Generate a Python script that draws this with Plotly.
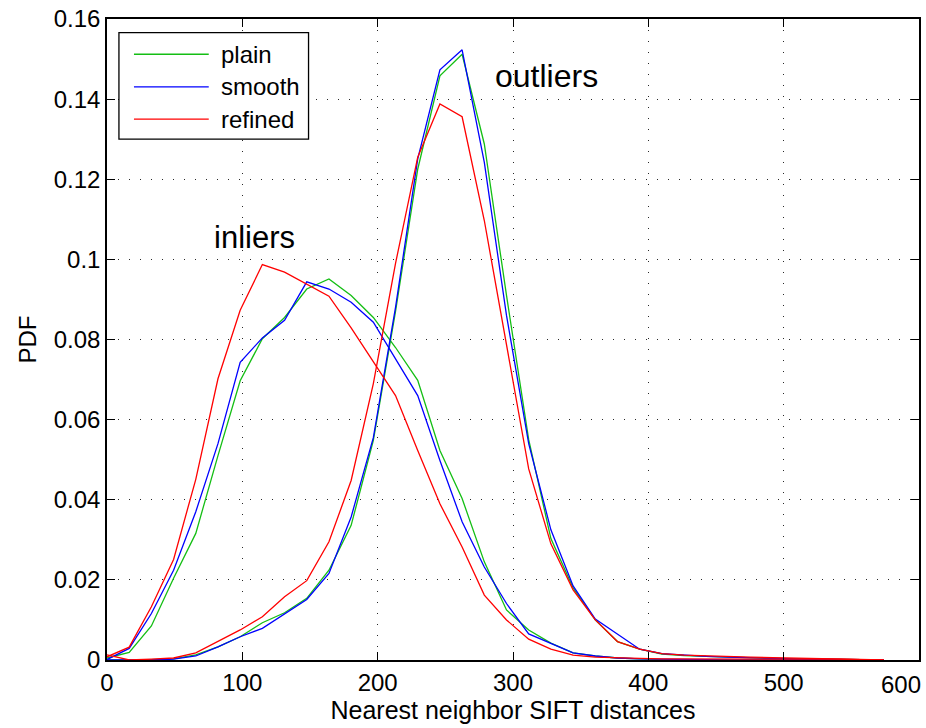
import plotly.graph_objects as go

# x positions of the histogram bins (distance units)
x_bins = [16.4 * i for i in range(36)]

# Inlier PDFs
plain_in = [0.0005, 0.0019, 0.0085, 0.0204, 0.0316, 0.0510, 0.0697, 0.0802, 0.0855, 0.0926,
            0.0951, 0.0910, 0.0855, 0.0780, 0.0698, 0.0523, 0.0403, 0.0245, 0.0125, 0.0075,
            0.0042, 0.0018, 0.0010, 0.0005, 0.0003, 0.0001, 0.0001, 0.0, 0.0, 0.0,
            0.0, 0.0, 0.0, 0.0, 0.0, 0.0]
smooth_in = [0.0001, 0.0029, 0.0116, 0.0224, 0.0370, 0.0540, 0.0743, 0.0804, 0.0848, 0.0944,
             0.0926, 0.0893, 0.0843, 0.0750, 0.0660, 0.0498, 0.0345, 0.0232, 0.0141, 0.0065,
             0.0042, 0.0018, 0.0010, 0.0005, 0.0003, 0.0002, 0.0001, 0.0001, 0.0, 0.0,
             0.0, 0.0, 0.0, 0.0, 0.0, 0.0]
refined_in = [0.0008, 0.0032, 0.0133, 0.0251, 0.0451, 0.0702, 0.0873, 0.0987, 0.0968, 0.0937,
              0.0908, 0.0829, 0.0744, 0.0660, 0.0523, 0.0390, 0.0282, 0.0162, 0.0100, 0.0052,
              0.0027, 0.0012, 0.0007, 0.0005, 0.0004, 0.0003, 0.0003, 0.0003, 0.0003, 0.0003,
              0.0003, 0.0003, 0.0003, 0.0002, 0.0001, 0.0]

# Outlier PDFs
plain_out = [0.0, 0.0, 0.0001, 0.0003, 0.0013, 0.0033, 0.0058, 0.0093, 0.0118, 0.0154,
             0.0224, 0.0336, 0.0548, 0.0870, 0.1225, 0.1458, 0.1512, 0.1288, 0.0910, 0.0550,
             0.0303, 0.0180, 0.0100, 0.0046, 0.0027, 0.0015, 0.0011, 0.0009, 0.0007, 0.0005,
             0.0004, 0.0003, 0.0002, 0.0001, 0.0001, 0.0]
smooth_out = [0.0, 0.0, 0.0, 0.0002, 0.0010, 0.0033, 0.0058, 0.0079, 0.0116, 0.0151,
              0.0216, 0.0357, 0.0555, 0.0880, 0.1251, 0.1473, 0.1523, 0.1242, 0.0860, 0.0540,
              0.0325, 0.0185, 0.0102, 0.0065, 0.0027, 0.0016, 0.0012, 0.0009, 0.0007, 0.0005,
              0.0004, 0.0003, 0.0002, 0.0002, 0.0001, 0.0]
refined_out = [0.0013, 0.0, 0.0002, 0.0005, 0.0018, 0.0046, 0.0075, 0.0108, 0.0158, 0.0198,
               0.0295, 0.0448, 0.0690, 0.0990, 0.1255, 0.1388, 0.1356, 0.1097, 0.0790, 0.0477,
               0.0290, 0.0175, 0.0100, 0.0046, 0.0027, 0.0016, 0.0012, 0.0010, 0.0008, 0.0007,
               0.0006, 0.0005, 0.0004, 0.0003, 0.0002, 0.0]

series_names = ["plain", "smooth", "refined"]
series_colors = ["rgb(20,190,20)", "rgb(0,0,255)", "rgb(255,0,0)"]
inliers = [plain_in, smooth_in, refined_in]
outliers = [plain_out, smooth_out, refined_out]

x_ticks = [0, 100, 200, 300, 400, 500, 600]
x_tick_text = ["0", "100", "200", "300", "400", "500", ""]  # last label placed separately
y_ticks = [0, 0.02, 0.04, 0.06, 0.08, 0.1, 0.12, 0.14, 0.16]
y_tick_text = ["0", "0.02", "0.04", "0.06", "0.08", "0.1", "0.12", "0.14", "0.16"]

FONT = "Liberation Sans, Arial, Helvetica, sans-serif"

fig = go.Figure()
for name, color, yin, yout in zip(series_names, series_colors, inliers, outliers):
    fig.add_trace(go.Scatter(x=x_bins, y=yin, mode="lines", name=name,
                             line=dict(color=color, width=1.3), showlegend=False))
    fig.add_trace(go.Scatter(x=x_bins, y=yout, mode="lines", name=name,
                             line=dict(color=color, width=1.3), showlegend=False))

axis_common = dict(
    showline=True, linecolor="black", linewidth=1.5, mirror="ticks",
    ticks="inside", ticklen=8, tickwidth=1, tickcolor="black",
    showgrid=True, gridcolor="rgb(40,40,40)", gridwidth=1, griddash="1px,10px",
    zeroline=False, tickfont=dict(family=FONT, size=24, color="black"),
)

fig.update_xaxes(range=[0, 600], tickvals=x_ticks, ticktext=x_tick_text, **axis_common,
                 title=dict(text="Nearest neighbor SIFT distances",
                            font=dict(family=FONT, size=25, color="black"), standoff=4))
fig.update_yaxes(range=[0, 0.16], tickvals=y_ticks, ticktext=y_tick_text, **axis_common,
                 title=dict(text="PDF", font=dict(family=FONT, size=24, color="black"),
                            standoff=10))

# the "600" tick label sits pushed inside the figure edge, as in the original
fig.add_annotation(x=x_ticks[-1], xref="x", y=0, yref="paper", text=str(x_ticks[-1]),
                   showarrow=False, xanchor="right", yanchor="middle", xshift=4, yshift=-24,
                   font=dict(family=FONT, size=24, color="black"))

# Legend (boxed key in the upper-left corner)
lx0, lx1, ly0, ly1 = 0.0147, 0.2482, 0.8126, 0.9787
fig.add_shape(type="rect", xref="paper", yref="paper", x0=lx0, x1=lx1, y0=ly0, y1=ly1,
              line=dict(color="black", width=1.3), fillcolor="white", layer="above")
row_y = [0.945, 0.8941, 0.8438]
for name, color, ry in zip(series_names, series_colors, row_y):
    fig.add_shape(type="line", xref="paper", yref="paper", x0=0.0332, x1=0.1253,
                  y0=ry, y1=ry, line=dict(color=color, width=1.3), layer="above")
    fig.add_annotation(xref="paper", yref="paper", x=0.1376, y=ry, text=name,
                       showarrow=False, xanchor="left", yanchor="middle",
                       font=dict(family=FONT, size=24, color="black"))

fig.add_annotation(x=108.8, y=0.1055, text="inliers", showarrow=False,
                   font=dict(family=FONT, size=31, color="black"))
fig.add_annotation(x=324.7, y=0.1458, text="outliers", showarrow=False,
                   font=dict(family=FONT, size=32, color="black"))

fig.update_layout(
    width=926, height=728,
    margin=dict(l=107, r=5, t=18, b=68),
    paper_bgcolor="white", plot_bgcolor="white",
    showlegend=False,
)

fig.write_html("out.html")
